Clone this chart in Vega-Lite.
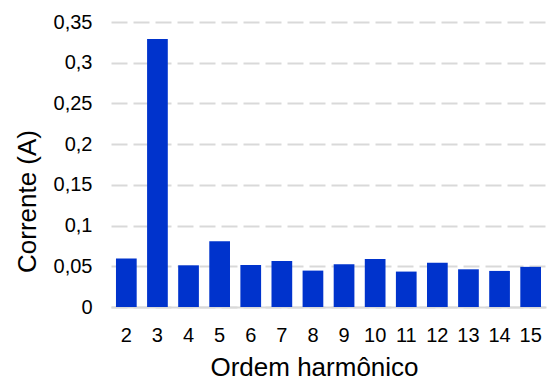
{
  "$schema": "https://vega.github.io/schema/vega-lite/v6.json",
  "width": 435,
  "height": 285,
  "autosize": "none",
  "padding": {"left": 111, "top": 22, "right": 4, "bottom": 71},
  "background": "white",
  "config": {
    "locale": {"number": {"decimal": ",", "thousands": ".", "grouping": [3], "currency": ["", " €"]}},
    "view": {"stroke": null},
    "font": "Liberation Sans"
  },
  "data": {
    "values": [
      {"ordem": "2", "corrente": 0.0595},
      {"ordem": "3", "corrente": 0.329},
      {"ordem": "4", "corrente": 0.0512},
      {"ordem": "5", "corrente": 0.0808},
      {"ordem": "6", "corrente": 0.0517},
      {"ordem": "7", "corrente": 0.0566},
      {"ordem": "8", "corrente": 0.0447},
      {"ordem": "9", "corrente": 0.0525},
      {"ordem": "10", "corrente": 0.0591},
      {"ordem": "11", "corrente": 0.0435},
      {"ordem": "12", "corrente": 0.0542},
      {"ordem": "13", "corrente": 0.0463},
      {"ordem": "14", "corrente": 0.0443},
      {"ordem": "15", "corrente": 0.0493}
    ]
  },
  "mark": {"type": "bar", "color": "#0033cc"},
  "encoding": {
    "x": {
      "field": "ordem",
      "type": "ordinal",
      "sort": null,
      "scale": {"paddingInner": 0.334, "paddingOuter": 0.16},
      "axis": {
        "title": "Ordem harmônico",
        "labelAngle": 0,
        "labelFontSize": 20,
        "labelColor": "#000000",
        "labelPadding": 18,
        "ticks": false,
        "tickSize": 0,
        "domainColor": "#d9d9d9",
        "domainWidth": 2,
        "titleFontSize": 26,
        "titleFontWeight": "normal",
        "titleColor": "#000000",
        "titleBaseline": "alphabetic",
        "titleAlign": "center",
        "titleX": 203,
        "titleY": 68
      }
    },
    "y": {
      "field": "corrente",
      "type": "quantitative",
      "scale": {"domain": [0, 0.35], "nice": false},
      "axis": {
        "title": "Corrente (A)",
        "values": [0, 0.05, 0.1, 0.15, 0.2, 0.25, 0.3, 0.35],
        "format": "~g",
        "labelFontSize": 20,
        "labelColor": "#000000",
        "labelPadding": 19,
        "ticks": false,
        "tickSize": 0,
        "domain": false,
        "grid": true,
        "gridColor": "#d9d9d9",
        "gridWidth": 2,
        "gridDash": [16, 6],
        "titleFontSize": 26,
        "titleFontWeight": "normal",
        "titleColor": "#000000",
        "titleBaseline": "alphabetic",
        "titleAlign": "center",
        "titleAngle": -90,
        "titleX": -76,
        "titleY": 179
      }
    }
  }
}
